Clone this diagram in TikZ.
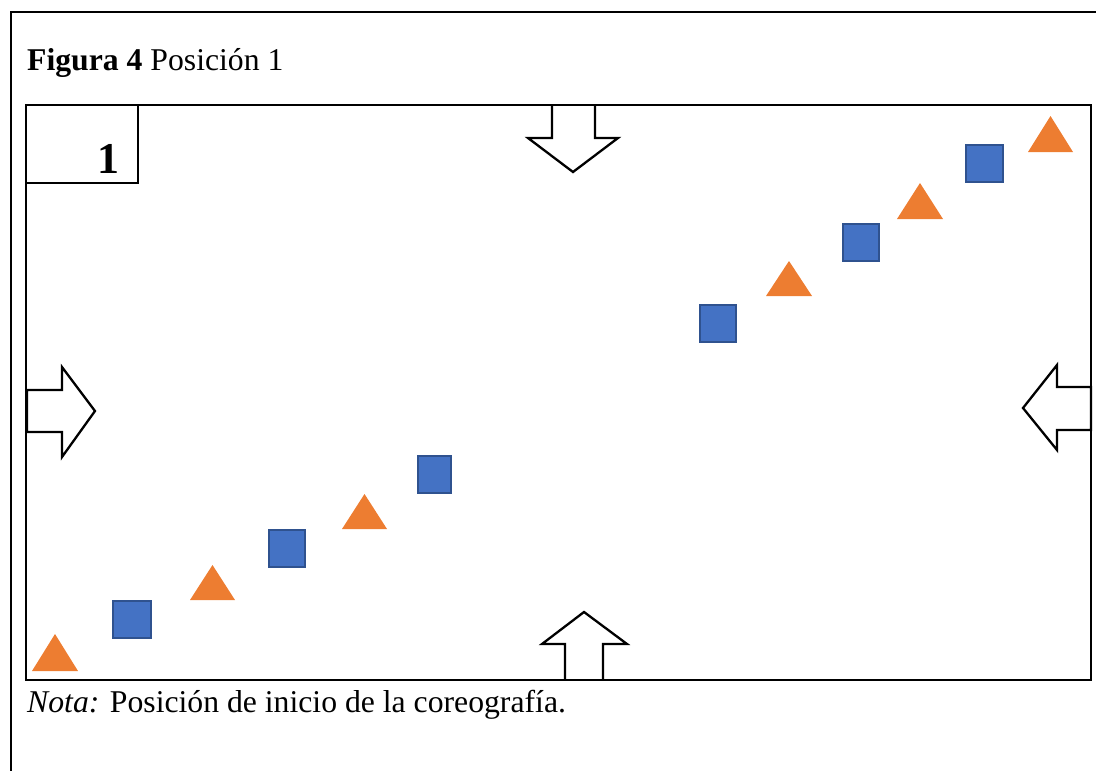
\documentclass[tikz,border=0pt]{standalone}
\usepackage{fontspec}
\setmainfont{Liberation Serif}
\definecolor{sqfill}{HTML}{4472C4}
\definecolor{sqedge}{HTML}{2F528F}
\definecolor{trifill}{HTML}{ED7D31}
\tikzset{
  frame/.style={line width=2.6pt, black},
  sq/.style={fill=sqfill, draw=sqedge, line width=1.5pt},
  tri/.style={fill=trifill, draw=none},
  bigarrow/.style={draw=black, fill=white, line width=2.3pt, line join=miter},
  txt/.style={inner sep=0pt, anchor=base west, font=\fontsize{31.7}{38}\selectfont}
}
\begin{document}
\begin{tikzpicture}[x=1pt,y=-1pt]
\useasboundingbox (0,0) rectangle (1096,771);
% outer frame
\draw[frame] (11,771) -- (11,12) -- (1096,12);
% title
\node[txt] (title) at (27,70) {\textbf{Figura 4} Posición 1};
% arrows
\draw[bigarrow] (552,105) -- (552,138) -- (528,138) -- (573,172) -- (618,138) -- (595,138) -- (595,105);
\draw[bigarrow] (565,680) -- (565,644) -- (542,644) -- (584,612) -- (627,644) -- (603,644) -- (603,680);
\draw[bigarrow] (27,390) -- (62,390) -- (62,367) -- (95,411) -- (62,457) -- (62,432) -- (27,432) -- cycle;
\draw[bigarrow] (1091,387) -- (1057,387) -- (1057,365) -- (1023,408) -- (1057,450) -- (1057,430) -- (1091,430) -- cycle;
% stage
\draw[frame] (26,105) rectangle (1091,680);
\coordinate (stage) at (558,392);
% label box
\draw[frame] (26,105) rectangle (138,183);
\node[inner sep=0pt, anchor=base east, font=\fontsize{44}{50}\selectfont\bfseries] (num) at (120,173) {1};
% squares
\draw[sq] (113,601) rectangle (151,638);
\draw[sq] (269,530) rectangle (305,567);
\draw[sq] (418,456) rectangle (451,493);
\draw[sq] (700,305) rectangle (736,342);
\draw[sq] (843,224) rectangle (879,261);
\draw[sq] (966,145) rectangle (1003,182);
% triangles
\fill[tri] (32,671) -- (55,634) -- (78,671) -- cycle;
\fill[tri] (190,600) -- (212.5,565) -- (235,600) -- cycle;
\fill[tri] (342,529) -- (364.5,494) -- (387,529) -- cycle;
\fill[tri] (766,296) -- (789,261) -- (812,296) -- cycle;
\fill[tri] (897,219) -- (920,183) -- (943,219) -- cycle;
\fill[tri] (1028,152) -- (1050.5,116) -- (1073,152) -- cycle;
% note
\node[txt] (nota) at (27,712) {\textit{Nota:} Posición de inicio de la coreografía.};
\end{tikzpicture}
\end{document}
